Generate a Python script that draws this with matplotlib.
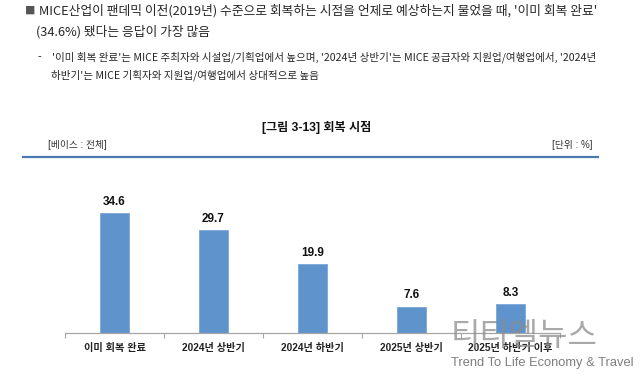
import numpy as np
import matplotlib.pyplot as plt

plt.rcParams['font.family'] = ['Liberation Sans', 'Noto Sans CJK KR', 'DejaVu Sans']

# data
categories = ['이미 회복 완료', '2024년 상반기', '2024년 하반기', '2025년 상반기', '2025년 하반기 이후']
values = [34.6, 29.7, 19.9, 7.6, 8.3]

W, H = 640, 375
fig = plt.figure(figsize=(6.4, 3.75), dpi=100)


def px(x, y):
    # pixel position (from top-left) -> figure fraction
    return x / W, 1 - y / H


kr = ['Noto Sans CJK KR', 'DejaVu Sans']
txt = '#262626'

# 상단 설명 문단
fig.text(*px(25, 11), '■', fontsize=7.5, color='#555555', va='center', family=kr)
fig.text(*px(39, 11), "MICE산업이 팬데믹 이전(2019년) 수준으로 회복하는 시점을 언제로 예상하는지 물었을 때, '이미 회복 완료'",
         fontsize=9.2, color=txt, va='center', family=kr)
fig.text(*px(36, 32), "(34.6%) 됐다는 응답이 가장 많음", fontsize=9.2, color=txt, va='center', family=kr)
fig.text(*px(38, 57), '-', fontsize=7.5, color=txt, va='center', family=kr)
fig.text(*px(52, 57), "'이미 회복 완료'는 MICE 주최자와 시설업/기획업에서 높으며, '2024년 상반기'는 MICE 공급자와 지원업/여행업에서, '2024년",
         fontsize=7.6, color=txt, va='center', family=kr)
fig.text(*px(51, 75), "하반기'는 MICE 기획자와 지원업/여행업에서 상대적으로 높음",
         fontsize=7.6, color=txt, va='center', family=kr)

# 그림 제목
fig.text(*px(317, 128), '[그림 3-13] 회복 시점', fontsize=8.7, fontweight='bold', color='#111111',
         ha='center', va='center')
fig.text(*px(48, 145), '[베이스 : 전체]', fontsize=7, color='#333333', va='center')
fig.text(*px(592, 145), '[단위 : %]', fontsize=7, color='#333333', va='center', ha='right')
fig.add_artist(plt.Line2D([23 / W, 598 / W], [1 - 156.5 / H] * 2, color='#4a78b0', linewidth=1.6))

# 막대 그래프
ax = fig.add_axes([65 / W, 1 - 333 / H, 495 / W, 173 / H])
x = np.arange(len(categories))
bars = ax.bar(x, values, width=0.3, color='#5e93cc', edgecolor='#7aa8d8', linewidth=0.6, zorder=2)
for b, v in zip(bars, values):
    ax.annotate(f'{v:.1f}', (b.get_x() + b.get_width() / 2, v), xytext=(0, 4), textcoords='offset points',
                ha='center', va='bottom', fontsize=8.5, fontweight='bold', color='#111111')

ax.set_xlim(-0.5, len(categories) - 0.5)
ax.set_ylim(0, 50)
for s in ['top', 'right', 'left']:
    ax.spines[s].set_visible(False)
ax.spines['bottom'].set_color('#a6a6a6')
ax.spines['bottom'].set_linewidth(0.9)
ax.set_yticks([])
ax.set_xticks(x)
ax.set_xticklabels(categories, fontsize=7.3, fontweight='bold', color='#222222')
ax.tick_params(axis='x', which='major', length=0, pad=7)
ax.set_xticks(np.arange(-0.5, len(categories)), minor=True)
ax.tick_params(axis='x', which='minor', length=3.5, color='#a6a6a6', width=0.8)
ax.patch.set_visible(False)

# 워터마크
fig.text(*px(451, 336), '티티엘뉴스', fontsize=23, color='#8c8c8c', alpha=0.75, va='center', family=kr, zorder=5)
fig.text(*px(451, 363), 'Trend To Life Economy & Travel', fontsize=9.3, color='#7f7f7f', va='center', zorder=5)

fig.savefig('out.png', dpi=100)
